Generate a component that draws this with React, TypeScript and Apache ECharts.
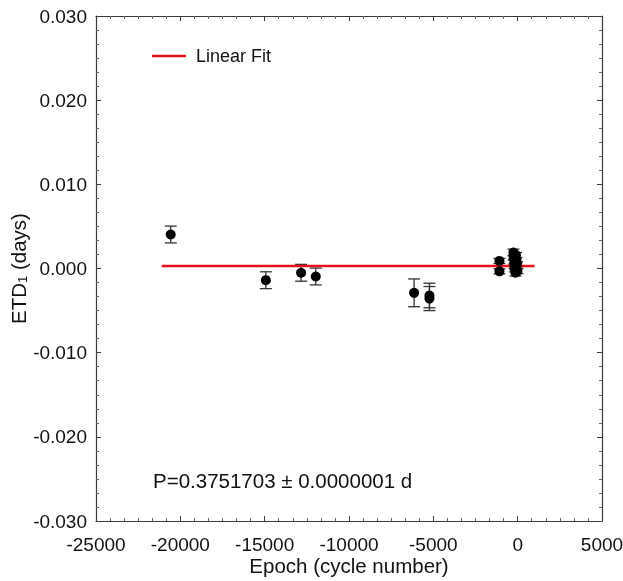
import React, { useEffect, useRef } from "react";
import * as echarts from "echarts";

// Epoch (cycle number)
const epochs = [
  -20570, -14930, -12840, -11970, -6140, -5230, -5230, -1080, -1080,
  -250, -230, -200, -180, -160, -130, -100, -70, -40, -10,
];
// ETD1 (days)
const etd = [
  0.00404, -0.00139, -0.00051, -0.00095, -0.00289, -0.00321, -0.00357, 0.00090, -0.00034,
  0.0019, 0.0013, 0.0008, 0.0003, -0.0001, -0.0005, 0.0016, 0.0010, 0.0005, -0.0003,
];
// error (days)
const errs = [
  0.001, 0.001, 0.001, 0.001, 0.00165, 0.00146, 0.00143, 0.0003, 0.0003,
  0.0004, 0.0003, 0.0003, 0.0003, 0.0003, 0.0004, 0.0003, 0.0003, 0.0003, 0.0003,
];
// linear fit endpoints
const fitEpochs = [-21100, 1000];
const fitValues = [0.0003, 0.0003];

const xTicks = { min: -25000, max: 5000, interval: 5000 };
const yTicks = { min: -0.03, max: 0.03, interval: 0.01 };

const FONT = "'Liberation Sans', Arial, sans-serif";
const AXIS_COLOR = "#3a3a3a";
const TEXT = "#111";

export default function App() {
  const ref = useRef<HTMLDivElement>(null);

  useEffect(() => {
    if (!ref.current) return;
    const chart = echarts.init(ref.current, null, { renderer: "svg" });

    const points = epochs.map((e, i) => [e, etd[i], errs[i]]);
    const fitLine = fitEpochs.map((e, i) => [e, fitValues[i]]);

    const axisCommon = {
      type: "value" as const,
      axisLine: { show: true, onZero: false, lineStyle: { color: AXIS_COLOR, width: 1.2 } },
      axisTick: { show: true, inside: true, length: 5, lineStyle: { color: AXIS_COLOR } },
      minorTick: { show: true, splitNumber: 6, length: 3, lineStyle: { color: "#666" } },
      splitLine: { show: false },
      minorSplitLine: { show: false },
    };

    const yFmt = (v: number) => (Math.abs(v) < 1e-9 ? "0.000" : v.toFixed(3));
    const xFmt = (v: number) => String(Math.round(v));

    chart.setOption({
      animation: false,
      textStyle: { fontFamily: FONT },
      grid: {
        left: 96,
        right: 21,
        top: 16,
        bottom: 60,
        containLabel: false,
        outerBoundsMode: "none",
      },
      legend: {
        show: true,
        left: 152,
        top: 47,
        padding: 0,
        icon: "rect",
        itemWidth: 34,
        itemHeight: 2.5,
        textStyle: { fontSize: 18, color: TEXT, fontFamily: FONT, padding: [0, 0, 0, 5] },
        data: [{ name: "Linear Fit" }],
      },
      xAxis: [
        {
          ...axisCommon,
          ...xTicks,
          position: "bottom",
          axisLabel: { fontSize: 19, color: TEXT, margin: 14, formatter: xFmt, fontFamily: FONT },
          name: "Epoch (cycle number)",
          nameLocation: "middle",
          nameGap: 34,
          nameMoveOverlap: false,
          nameTextStyle: { fontSize: 20.5, color: TEXT, fontFamily: FONT },
        },
        {
          ...axisCommon,
          ...xTicks,
          position: "top",
          axisLabel: { show: false },
        },
      ],
      yAxis: [
        {
          ...axisCommon,
          ...yTicks,
          position: "left",
          axisLabel: { fontSize: 19, color: TEXT, margin: 9, formatter: yFmt, fontFamily: FONT },
          name: "{a|ETD}{s|1}{a| (days)}",
          nameLocation: "middle",
          nameRotate: 90,
          nameGap: 67,
          nameMoveOverlap: false,
          nameTextStyle: {
            fontFamily: FONT,
            rich: {
              a: { fontSize: 20.5, color: TEXT, fontFamily: FONT },
              s: { fontSize: 13, color: TEXT, fontFamily: FONT, verticalAlign: "bottom", padding: [7, 0, 0, 0] },
            },
          },
        },
        {
          ...axisCommon,
          ...yTicks,
          position: "right",
          axisLabel: { show: false },
        },
      ],
      series: [
        {
          type: "custom",
          name: "errors",
          xAxisIndex: 0,
          yAxisIndex: 0,
          z: 2,
          data: points,
          renderItem: (params: any, api: any) => {
            const x = api.value(0);
            const y = api.value(1);
            const e = api.value(2);
            const top = api.coord([x, y + e]);
            const bot = api.coord([x, y - e]);
            const hw = 6;
            const style = { stroke: "#333", lineWidth: 1.3 };
            return {
              type: "group",
              children: [
                { type: "line", shape: { x1: top[0], y1: top[1], x2: bot[0], y2: bot[1] }, style },
                { type: "line", shape: { x1: top[0] - hw, y1: top[1], x2: top[0] + hw, y2: top[1] }, style },
                { type: "line", shape: { x1: bot[0] - hw, y1: bot[1], x2: bot[0] + hw, y2: bot[1] }, style },
              ],
            };
          },
        },
        {
          type: "line",
          name: "Linear Fit",
          xAxisIndex: 0,
          yAxisIndex: 0,
          z: 3,
          data: fitLine,
          symbol: "none",
          lineStyle: { color: "#e8121b", width: 2.5 },
          itemStyle: { color: "#e8121b" },
        },
        {
          type: "scatter",
          name: "data",
          xAxisIndex: 0,
          yAxisIndex: 0,
          z: 4,
          data: points.map((p) => [p[0], p[1]]),
          symbol: "circle",
          symbolSize: 10,
          itemStyle: { color: "#000", opacity: 1 },
        },
      ],
      graphic: [
        {
          type: "text",
          left: 153,
          top: 470,
          style: {
            text: "P=0.3751703 ± 0.0000001 d",
            fontSize: 20.5,
            fill: TEXT,
            fontFamily: FONT,
          },
        },
      ],
    });

    return () => chart.dispose();
  }, []);

  return (
    <div
      ref={ref}
      style={{ position: "fixed", left: 0, top: 0, width: 623, height: 581 }}
    />
  );
}
